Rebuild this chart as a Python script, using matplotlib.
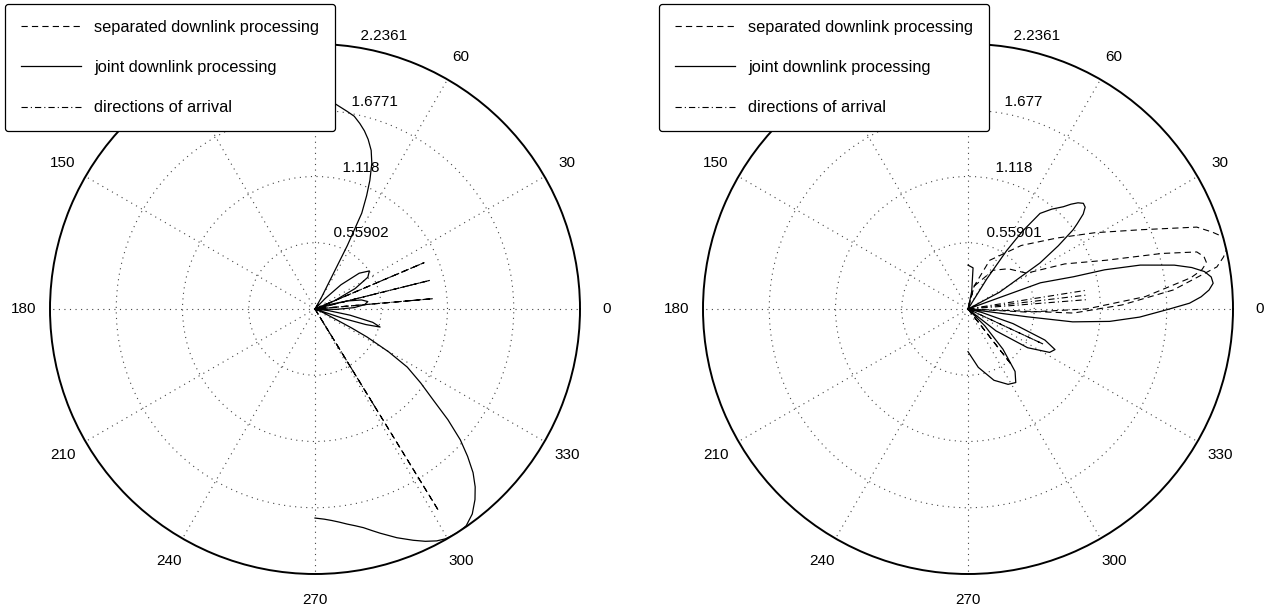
import numpy as np
import matplotlib
matplotlib.use("Agg")
import matplotlib.pyplot as plt

plt.rcParams['font.family'] = ['Liberation Sans', 'DejaVu Sans']
plt.rcParams['lines.scale_dashes'] = False

# ---- data (theta in degrees, r) ----
rmax = 2.2361
rticks = [0.55902, 1.118, 1.6771, 2.2361]
rticks_left = ["0.55902", "1.118", "1.6771", "2.2361"]
rticks_right = ["0.55901", "1.118", "1.677", "2.2361"]
# 90 and 120 sit under the legend box in the original, so they are not drawn
angle_labels = [0, 30, 60, 150, 180, 210, 240, 270, 300, 330]

# left: joint downlink processing
left_joint_th = [-90, -87.5, -85.5, -83.5, -81.5, -79.5, -77.5, -75.6, -73.8, -70.3, -67, -64.6, -62.3, -60.4, -58.6,
                 -56.8, -55.1, -52.5, -50,
                 -48, -46, -44, -42, -39.8, -37.6, -35, -32.2, -30.2, -28.3, -27.4, -26.6, -24, -21.5,
                 -20, -18.5, -17, -15.5, -13, -10, -7, -4,
                 -1, 2, 5, 8, 11, 14, 17, 20,
                 23, 27, 31, 35, 39, 43, 46, 49, 53, 58,
                 61, 62.5, 63, 64, 65.5, 66.9, 68.7, 70.5, 72.6, 74.5, 76.4, 78.5, 80.8, 84.4, 87, 90]
left_joint_r = [1.764, 1.775, 1.79, 1.81, 1.835, 1.86, 1.89, 1.93, 1.97, 2.05, 2.12, 2.17, 2.21, 2.23, 2.236,
                2.238, 2.23, 2.18, 2.1,
                2.02, 1.92, 1.79, 1.65, 1.46, 1.26, 1.09, 0.92, 0.72, 0.50, 0.35, 0.21, 0.08, 0.02,
                0.0, 0.25, 0.45, 0.57, 0.5, 0.3, 0.12, 0.0,
                0.18, 0.33, 0.42, 0.45, 0.4, 0.28, 0.13, 0.0,
                0.18, 0.38, 0.52, 0.56, 0.48, 0.3, 0.12, 0.0, 0.04, 0.0,
                0.12, 0.3, 0.6, 0.9, 1.05, 1.18, 1.32, 1.42, 1.5, 1.56, 1.61, 1.66, 1.69, 1.74, 1.755, 1.76]

# left: separated downlink processing (narrow beams)
left_sep_th = [-90, -59.5, -58.5, -57.5, -56.5, 0, 4.3, 5, 5.7, 13.3, 14, 14.7, 22.3, 23, 23.7, 90]
left_sep_r = [0, 0, 2.0, 0, 0, 0, 0, 1.0, 0, 0, 1.0, 0, 0, 1.0, 0, 0]

# left: directions of arrival
left_doa = [-58.5, 5, 14, 23]

# right: joint downlink processing
right_joint_th = [-90, -80, -70, -62, -57, -53, -49, -45, -42,
                  -38, -33, -28, -25, -22, -18, -14, -11,
                  -8.5, -7.5, -7, -5, -2.7, 0, 1.5, 3, 4.5, 6, 7.5, 9, 10.5, 12, 14.3, 16, 17, 19.9, 23,
                  28, 32.6, 35, 37, 38, 39.5, 41, 42.5, 44, 45.5, 47, 50, 53, 55, 56.5, 58, 60,
                  70, 78, 83, 90]
right_joint_r = [0.36, 0.5, 0.64, 0.72, 0.74, 0.66, 0.45, 0.2, 0.0,
                 0.3, 0.6, 0.78, 0.81, 0.7, 0.4, 0.12, 0.0,
                 0.0, 0.5, 0.89, 1.2, 1.45, 1.7, 1.87, 1.97, 2.04, 2.08, 2.07, 2.02, 1.92, 1.78, 1.5, 1.2, 0.93, 0.65, 0.0,
                 0.3, 0.72, 0.93, 1.11, 1.17, 1.26, 1.31, 1.32, 1.29, 1.24, 1.18, 1.1, 1.01, 0.8, 0.59, 0.3, 0.0,
                 0.0, 0.15, 0.35, 0.37]

# right: separated downlink processing (two broad beams)
right_sep_th = [-90, -60, -52, -45, -35, -25, -15, -6, -2.2, 1.5, 5.3, 9.6, 11.5, 13.4, 14.8, 15.8, 17.5, 19.7, 24.7, 31,
                38.6, 50, 66, 75, 90,
                75, 57, 45, 31.4, 25, 19.4, 16, 14, 12.5, 11, 9.5, 8, 4, 0, -3, -6, -90]
right_sep_r = [0, 0, 0.6, 0, 0, 0.7, 0, 0, 0.89, 1.3, 1.74, 2.13, 2.2, 2.25, 2.25, 2.236, 2.16, 2.05, 1.6, 1.25,
               0.96, 0.7, 0.45, 0.2, 0,
               0.2, 0.39, 0.48, 0.58, 0.9, 1.24, 1.7, 1.99, 2.04, 2.05, 2.0, 1.9, 1.5, 1.0, 0.5, 0, 0]

# right: directions of arrival
right_doa = [4.5, 6.7, 9]

DASH = (0, (4.5, 3.0))
DASHDOT = (0, (4.5, 2.2, 0.8, 2.2))
GRID = (0, (0.8, 3.2))


def polar_frame(ax, rlabels):
    ax.set_theta_zero_location('E')
    ax.set_ylim(0, rmax)
    ax.set_xticks(np.deg2rad(np.arange(0, 360, 30)))
    ax.set_xticklabels([])
    ax.set_yticks(rticks[:-1])
    ax.set_yticklabels([])
    ax.grid(True, color='#444444', linewidth=0.8, linestyle=GRID)
    ax.spines['polar'].set_linewidth(1.4)
    ax.spines['polar'].set_color('black')
    # angle labels at 1.1 * rmax
    for a in angle_labels:
        ax.text(np.deg2rad(a), 1.1 * rmax, str(a), ha='center', va='center',
                fontsize=11, clip_on=False)
    # radial labels along 82 deg, like matlab's polar
    rinc = rticks[0]
    for rv, lab in zip(rticks, rlabels):
        ax.text(np.deg2rad(82), rv + rinc / 20, '  ' + lab, ha='left', va='bottom',
                fontsize=11, clip_on=False)


def draw(ax, joint_th, joint_r, sep_th, sep_r, doa):
    ax.plot(np.deg2rad(sep_th), sep_r, color='black', lw=0.8, linestyle=DASH,
            label='separated downlink processing')
    ax.plot(np.deg2rad(joint_th), joint_r, color='black', lw=0.9,
            label='joint downlink processing')
    for i, d in enumerate(doa):
        ax.plot([np.deg2rad(d)] * 2, [0, 1], color='black', lw=0.8, linestyle=DASHDOT,
                label='directions of arrival' if i == 0 else None)


fig = plt.figure(figsize=(12.76, 6.14), dpi=100)
W, H = 1276.0, 614.0
R = 265.0

axL = fig.add_axes([(315 - R) / W, (H - 309 - R) / H, 2 * R / W, 2 * R / H], projection='polar')
axR = fig.add_axes([(968 - R) / W, (H - 309 - R) / H, 2 * R / W, 2 * R / H], projection='polar')

polar_frame(axL, rticks_left)
polar_frame(axR, rticks_right)
draw(axL, left_joint_th, left_joint_r, left_sep_th, left_sep_r, left_doa)
draw(axR, right_joint_th, right_joint_r, right_sep_th, right_sep_r, right_doa)

for ax, x0 in ((axL, 5), (axR, 659)):
    leg = ax.legend(loc='upper left', bbox_to_anchor=(x0 / W, 1 - 4 / H),
                    bbox_transform=fig.transFigure, fontsize=11.8, frameon=True,
                    fancybox=True, edgecolor='black', framealpha=1,
                    handlelength=3.7, handletextpad=0.8, labelspacing=1.55,
                    borderpad=0.95, borderaxespad=0)
    leg.get_frame().set_linewidth(0.9)
    leg.set_zorder(10)

fig.savefig('out.png', dpi=100)
